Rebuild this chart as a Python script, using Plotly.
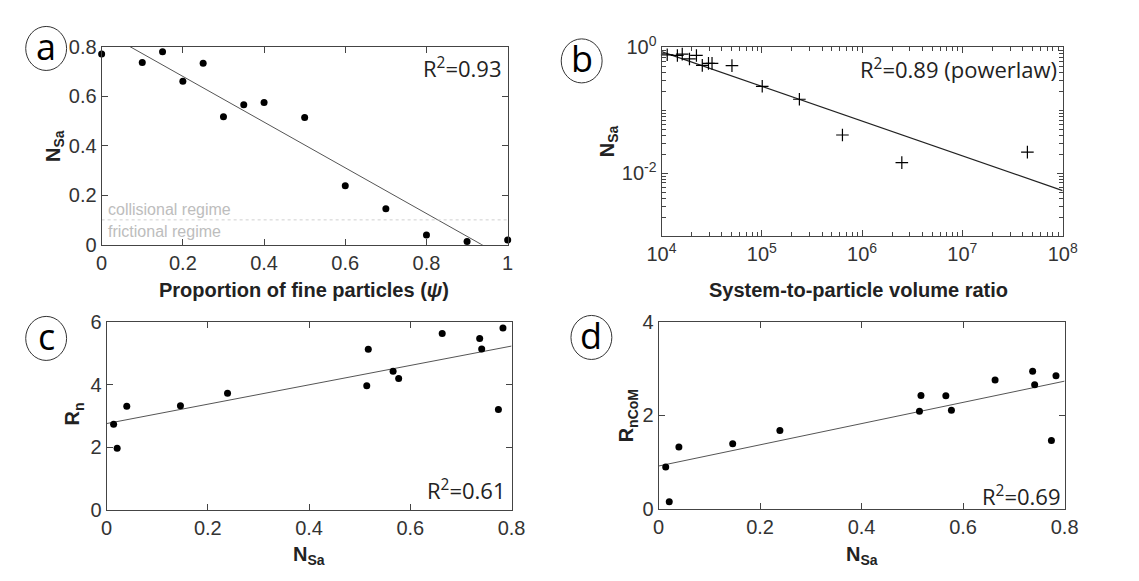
import plotly.graph_objects as go

W, H = 1139, 581

# ---------------- data ----------------
# panel a
psi = [0.0, 0.1, 0.15, 0.2, 0.25, 0.3, 0.35, 0.4, 0.5, 0.6, 0.7, 0.8, 0.9, 1.0]
nsa_a = [0.770, 0.736, 0.779, 0.660, 0.733, 0.516, 0.565, 0.574, 0.513, 0.238, 0.145, 0.039, 0.013, 0.019]
fit_a = (0.864, -0.923)          # intercept, slope
regime_threshold = 0.1

# panel b
vol_ratio = [1.14e4, 1.44e4, 1.61e4, 1.90e4, 2.23e4, 2.55e4, 2.94e4, 3.19e4, 5.04e4,
             1.01e5, 2.37e5, 6.37e5, 2.49e6, 4.45e7]
nsa_b = [0.765, 0.747, 0.783, 0.657, 0.747, 0.520, 0.558, 0.558, 0.514,
         0.241, 0.150, 0.0405, 0.0147, 0.0216]
fit_b = (0.859, -0.553)          # N = c * (V/1e4)^p
fit_b_x = [1e4, 1e8]

# panels c, d (x = N_Sa)
nsa_cd = [0.014, 0.021, 0.040, 0.146, 0.239, 0.514, 0.517, 0.566, 0.577, 0.663, 0.737, 0.741, 0.774, 0.783]
rn = [2.735, 1.969, 3.306, 3.327, 3.724, 3.969, 5.133, 4.429, 4.194, 5.633, 5.480, 5.143, 3.204, 5.816]
rncom = [0.896, 0.150, 1.326, 1.395, 1.675, 2.092, 2.427, 2.421, 2.113, 2.762, 2.947, 2.660, 1.463, 2.851]
fit_c = (2.755, 3.10)
fit_d = (0.916, 2.274)

x_ticks_a = [0, 0.2, 0.4, 0.6, 0.8, 1]
x_ticks_cd = [0, 0.2, 0.4, 0.6, 0.8]
x_ticklabels_cd = ["0", "0.2", "0.4", "0.6", "0.8"]
y_ticks_a = [0, 0.2, 0.4, 0.6, 0.8]
y_ticks_c = [0, 2, 4, 6]
y_ticks_d = [0, 2, 4]
x_ticks_b = [1e4, 1e5, 1e6, 1e7, 1e8]
x_ticklabels_b = ["10<sup>4</sup>", "10<sup>5</sup>", "10<sup>6</sup>", "10<sup>7</sup>", "10<sup>8</sup>"]
y_ticks_b = [1e-2, 1]
y_ticklabels_b = ["10<sup>-2</sup>", "10<sup>0</sup>"]
# unlabelled tick positions of the log panel
minor_x_b = [k * 10 ** n for n in range(4, 8) for k in range(2, 10)]
minor_y_b = [k * 10.0 ** n for n in range(-3, 0) for k in range(2, 10)] + [1e-3, 1e-1]

r2_labels = ["R<sup>2</sup>=0.93", "R<sup>2</sup>=0.89 (powerlaw)", "R<sup>2</sup>=0.61", "R<sup>2</sup>=0.69"]
panel_letters = ["a", "b", "c", "d"]

# ---------------- helpers ----------------
def px(x):
    return x / W

def py(y):
    return 1 - y / H

TICKFONT = dict(family="Liberation Sans", size=20, color="#333333")
AXCOL = "#444444"
LINECOL = "#555555"

def axis_style(**kw):
    d = dict(showline=True, linecolor=AXCOL, linewidth=1, mirror="allticks",
             ticks="inside", ticklen=6, tickcolor=AXCOL, tickwidth=1,
             showgrid=False, zeroline=False, tickfont=TICKFONT, tickmode="array")
    d.update(kw)
    return d

fig = go.Figure()

dot = dict(color="black", size=7)

# panel a
xa = [0, 1]
fig.add_trace(go.Scatter(x=xa, y=[fit_a[0] + fit_a[1] * v for v in xa], mode="lines",
                         line=dict(color=LINECOL, width=1), xaxis="x", yaxis="y", showlegend=False))
fig.add_trace(go.Scatter(x=xa, y=[regime_threshold, regime_threshold], mode="lines",
                         line=dict(color="#d0d0d0", width=1, dash="dot"), xaxis="x", yaxis="y", showlegend=False))
fig.add_trace(go.Scatter(x=psi, y=nsa_a, mode="markers", marker=dot, cliponaxis=False,
                         xaxis="x", yaxis="y", showlegend=False))

# panel b
fig.add_trace(go.Scatter(x=fit_b_x, y=[fit_b[0] * (v / 1e4) ** fit_b[1] for v in fit_b_x], mode="lines",
                         line=dict(color="#222222", width=1.2), xaxis="x2", yaxis="y2", showlegend=False))
fig.add_trace(go.Scatter(x=vol_ratio, y=nsa_b, mode="markers", cliponaxis=False,
                         marker=dict(symbol="cross-thin", size=9, line=dict(color="black", width=1.2)),
                         xaxis="x2", yaxis="y2", showlegend=False))

# panel c
xc = [0, 0.8]
fig.add_trace(go.Scatter(x=xc, y=[fit_c[0] + fit_c[1] * v for v in xc], mode="lines",
                         line=dict(color=LINECOL, width=1), xaxis="x3", yaxis="y3", showlegend=False))
fig.add_trace(go.Scatter(x=nsa_cd, y=rn, mode="markers", marker=dot, cliponaxis=False,
                         xaxis="x3", yaxis="y3", showlegend=False))

# panel d
fig.add_trace(go.Scatter(x=xc, y=[fit_d[0] + fit_d[1] * v for v in xc], mode="lines",
                         line=dict(color=LINECOL, width=1), xaxis="x4", yaxis="y4", showlegend=False))
fig.add_trace(go.Scatter(x=nsa_cd, y=rncom, mode="markers", marker=dot, cliponaxis=False,
                         xaxis="x4", yaxis="y4", showlegend=False))

MINOR_X = dict(ticks="inside", tickmode="array", tickvals=minor_x_b, ticklen=4,
               tickcolor=AXCOL, tickwidth=1, showgrid=False)
MINOR_Y = dict(ticks="inside", tickmode="array", tickvals=minor_y_b, ticklen=4,
               tickcolor=AXCOL, tickwidth=1, showgrid=False)

fig.update_layout(
    width=W, height=H, margin=dict(l=0, r=0, t=0, b=0), autosize=False,
    paper_bgcolor="white", plot_bgcolor="white",
    xaxis=axis_style(domain=[px(89), px(506)], range=[0, 1], tickvals=x_ticks_a, anchor="y"),
    yaxis=axis_style(domain=[py(241), py(34)], range=[0, 0.8], tickvals=y_ticks_a, anchor="x"),
    xaxis2=axis_style(domain=[px(664), px(1076)], type="log", range=[4, 8],
                      tickvals=x_ticks_b, ticktext=x_ticklabels_b, anchor="y2", minor=MINOR_X),
    yaxis2=axis_style(domain=[py(232), py(35)], type="log", range=[-3, 0],
                      tickvals=y_ticks_b, ticktext=y_ticklabels_b, anchor="x2", minor=MINOR_Y),
    xaxis3=axis_style(domain=[px(94), px(510)], range=[0, 0.8], tickvals=x_ticks_cd,
                      ticktext=x_ticklabels_cd, anchor="y3"),
    yaxis3=axis_style(domain=[py(518), py(322)], range=[0, 6], tickvals=y_ticks_c, anchor="x3"),
    xaxis4=axis_style(domain=[px(661), px(1078)], range=[0, 0.8], tickvals=x_ticks_cd,
                      ticktext=x_ticklabels_cd, anchor="y4"),
    yaxis4=axis_style(domain=[py(517), py(322)], range=[0, 4], tickvals=y_ticks_d, anchor="x4"),
)

ann = []
TITLEFONT = dict(family="Liberation Sans", size=20, color="#222222")

def note(x, y, text, font, xanchor="center", yanchor="middle", angle=0):
    ann.append(dict(x=px(x), y=py(y), xref="paper", yref="paper", text=text, showarrow=False,
                    font=font, xanchor=xanchor, yanchor=yanchor, textangle=angle))

# axis titles
note(297, 288, "<b>Proportion of fine particles (<i>ψ</i>)</b>", TITLEFONT)
note(866, 288, "<b>System-to-particle volume ratio</b>", TITLEFONT)
note(302, 566, "<b>N<sub>Sa</sub></b>", TITLEFONT)
note(870, 566, "<b>N<sub>Sa</sub></b>", TITLEFONT)
note(40, 138, "<b>N<sub>Sa</sub></b>", TITLEFONT, angle=-90)
note(609, 133, "<b>N<sub>Sa</sub></b>", TITLEFONT, angle=-90)
note(60, 418, "<b>R<sub>n</sub></b>", TITLEFONT, angle=-90)
note(630, 420, "<b>R<sub>nCoM</sub></b>", TITLEFONT, angle=-90)

# R^2 labels
R2FONT = dict(family="Open Sans", size=22, color="#222222")
note(502, 56, r2_labels[0], R2FONT, xanchor="right")
note(1072, 57, r2_labels[1], R2FONT, xanchor="right")
note(506, 497, r2_labels[2], R2FONT, xanchor="right")
note(1076, 503, r2_labels[3], R2FONT, xanchor="right")

# regime labels
REGFONT = dict(family="Liberation Sans", size=16, color="#bdbdbd")
note(93, 204, "collisional regime", REGFONT, xanchor="left")
note(93, 227, "frictional regime", REGFONT, xanchor="left")

# panel letters in circles
centers = [(32, 36), (582, 49), (32, 339), (592, 338)]
shapes = []
LETTERFONT = dict(family="Open Sans", size=36, color="black")
for (cx, cy), letter in zip(centers, panel_letters):
    shapes.append(dict(type="circle", xref="paper", yref="paper",
                       x0=px(cx - 21), x1=px(cx + 21), y0=py(cy + 23), y1=py(cy - 23),
                       line=dict(color="#333333", width=1)))
    note(cx, cy - 2, letter, LETTERFONT)

fig.update_layout(annotations=ann, shapes=shapes)

fig.write_html("out.html")
